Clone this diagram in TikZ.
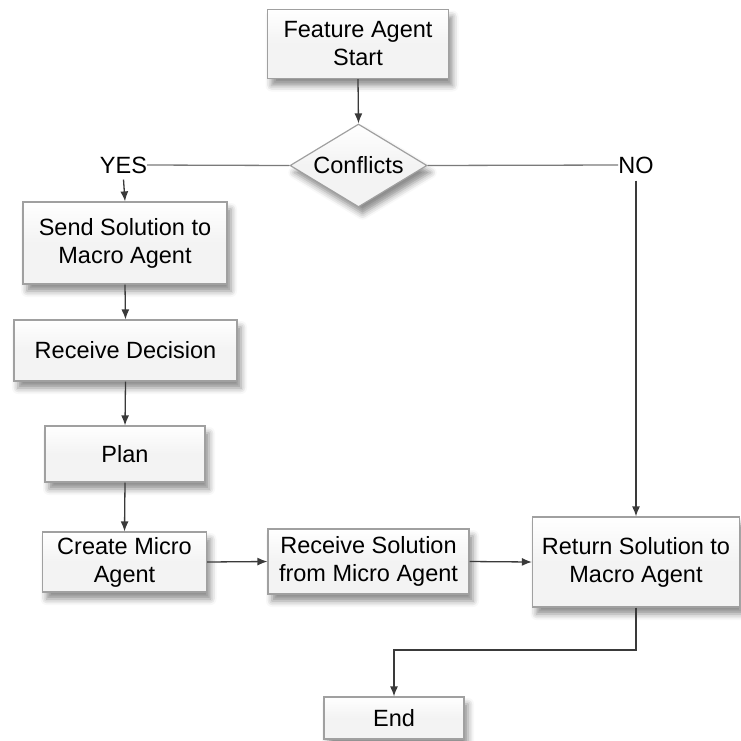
\documentclass[tikz,border=0pt]{standalone}
\usepackage{fontspec}
\setmainfont{Liberation Sans}
\usetikzlibrary{shapes.geometric,arrows.meta,shadows.blur}
\definecolor{boxline}{HTML}{A0A0A0}
\definecolor{boxfill}{HTML}{F3F3F3}
\definecolor{arrowc}{HTML}{3A3A3A}
\definecolor{linec}{HTML}{7A7A7A}
\tikzset{
  boxstyle/.style={draw=boxline, line width=1.2pt, top color=white, bottom color=boxfill, middle color=boxfill,
    align=center, inner sep=0pt, font=\fontsize{23.5}{28}\selectfont,
    blur shadow={shadow xshift=4pt, shadow yshift=-7pt, shadow blur radius=6pt, shadow opacity=45}},
  decstyle/.style={boxstyle, shape=diamond, shape aspect=1.65},
  lbl/.style={inner sep=0pt, font=\fontsize{23.5}{28}\selectfont},
  arr/.style={draw=arrowc, line width=1.3pt, -{Latex[length=10pt,width=8pt]}},
  plainline/.style={draw=linec, line width=1.3pt}
}
\begin{document}
\begin{tikzpicture}[x=1pt,y=-1pt]
\useasboundingbox (0,0) rectangle (741,740);
\node[boxstyle, minimum width=181pt, minimum height=69pt] (start) at (358,44) {Feature Agent\\Start};
\node[decstyle, minimum width=137pt, minimum height=83pt] (conf) at (358.5,165.5) {Conflicts};
\node[lbl] (yes) at (123.5,165) {YES};
\node[lbl] (no) at (636,165) {NO};
\node[boxstyle, minimum width=204pt, minimum height=82pt] (send) at (125,243) {Send Solution to\\Macro Agent};
\node[boxstyle, minimum width=223pt, minimum height=61pt] (dec) at (125.5,350.5) {Receive Decision};
\node[boxstyle, minimum width=160pt, minimum height=56pt] (plan) at (125,454) {Plan};
\node[boxstyle, minimum width=164pt, minimum height=60pt] (create) at (124.5,562) {Create Micro\\Agent};
\node[boxstyle, minimum width=201pt, minimum height=65pt] (recv) at (368.5,561.5) {Receive Solution\\from Micro Agent};
\node[boxstyle, minimum width=207pt, minimum height=90pt] (ret) at (636,562) {Return Solution to\\Macro Agent};
\node[boxstyle, minimum width=140pt, minimum height=42pt] (end) at (394,718) {End};
\coordinate (turn) at (636,650);

\draw[arr] (start.south) -- (conf.north);
\draw[plainline] (conf.west) -- (yes.east);
\draw[plainline] (conf.east) -- (no.west);
\draw[arr] ([yshift=-6pt]yes.south) -- (send.north);
\draw[arr] ([yshift=-7pt]no.south) -- (ret.north);
\draw[arr] (send.south) -- (dec.north);
\draw[arr] (dec.south) -- (plan.north);
\draw[arr] (plan.south) -- (create.north);
\draw[arr] (create.east) -- (recv.west);
\draw[arr] (recv.east) -- (ret.west);
\draw[arr] (ret.south) -- (turn) -| (end.north);
\end{tikzpicture}
\end{document}
